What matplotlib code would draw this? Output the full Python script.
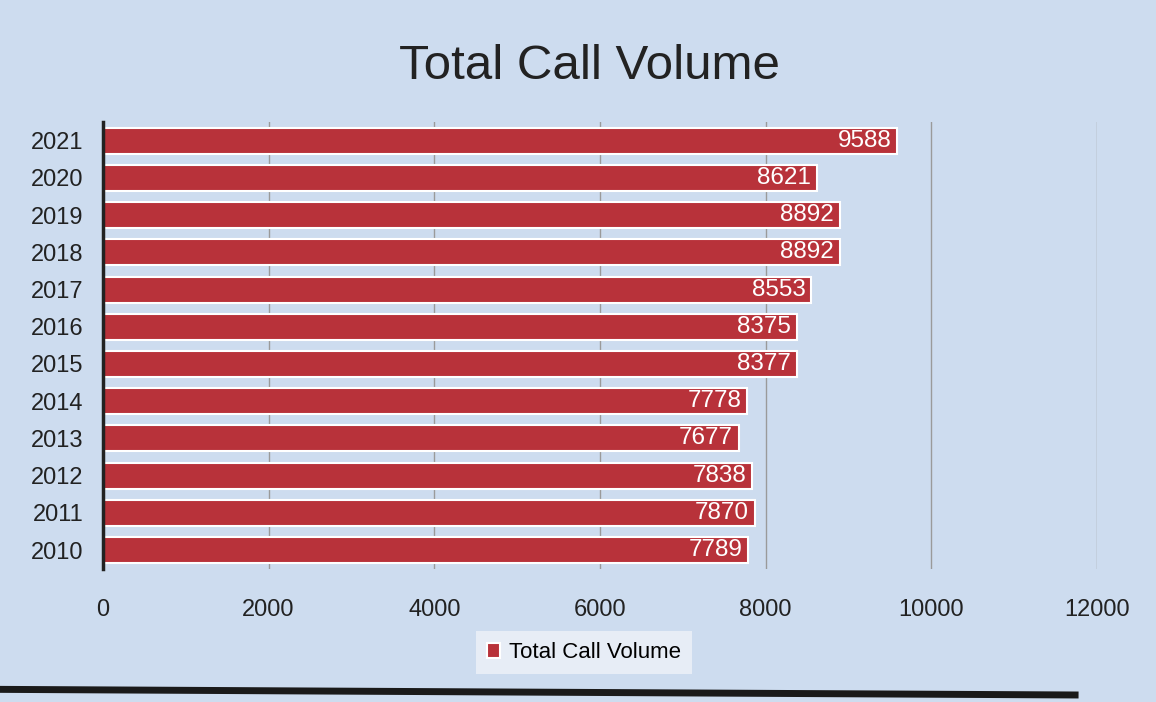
import numpy as np
import matplotlib.pyplot as plt
from matplotlib.lines import Line2D

plt.rcParams['font.family'] = ['Liberation Sans', 'DejaVu Sans']

# Данные графика
years = ["2010", "2011", "2012", "2013", "2014", "2015",
         "2016", "2017", "2018", "2019", "2020", "2021"]
calls = [7789, 7870, 7838, 7677, 7778, 8377, 8375, 8553, 8892, 8892, 8621, 9588]
xticks = [0, 2000, 4000, 6000, 8000, 10000, 12000]

bg = "#cddcef"
bar_color = "#b8323a"

fig = plt.figure(figsize=(11.56, 7.02), dpi=100)
fig.patch.set_facecolor(bg)
ax = fig.add_axes([0.089, 0.19, 0.86, 0.636])
ax.set_facecolor(bg)

y = np.arange(len(years))
bars = ax.barh(y, calls, height=0.7, color=bar_color, edgecolor="white",
               linewidth=1.5, label="Total Call Volume", zorder=3)

# подписи значений внутри конца столбца
for yi, v in zip(y, calls):
    ax.text(v - 70, yi, str(v), ha="right", va="center", color="white",
            fontsize=17.5, zorder=4)

ax.set_xlim(0, 12000)
ax.set_ylim(-0.5, len(years) - 0.5)
ax.set_xticks(xticks)
ax.set_xticklabels([str(t) for t in xticks], fontsize=17, color="#222222")
ax.set_yticks(y)
ax.set_yticklabels(years, fontsize=17, color="#222222")
ax.tick_params(axis="y", length=0, pad=14)
ax.tick_params(axis="x", length=0, pad=22)
ax.grid(axis="x", color="#9a9a9a", linewidth=1.0, zorder=0)

for s in ["top", "right", "bottom"]:
    ax.spines[s].set_visible(False)
ax.spines["left"].set_color("#222222")
ax.spines["left"].set_linewidth(2.5)
ax.spines["left"].set_zorder(5)

fig.text(0.51, 0.905, "Total Call Volume", ha="center", va="center",
         fontsize=35.5, color="#222222")

leg = fig.legend(handles=[bars], loc="center", bbox_to_anchor=(0.505, 0.07),
                 fontsize=16, frameon=True, handlelength=0.6, handleheight=0.6,
                 handletextpad=0.4, borderpad=0.5, fancybox=False)
leg.get_frame().set_facecolor("#eef2f8")
leg.get_frame().set_edgecolor("none")

# тёмная полоса внизу скана
fig.add_artist(Line2D([0.0, 0.93], [0.018, 0.01], color="#1a1a1a",
                      linewidth=5, transform=fig.transFigure))

fig.savefig("out.png", dpi=100, facecolor=bg)
